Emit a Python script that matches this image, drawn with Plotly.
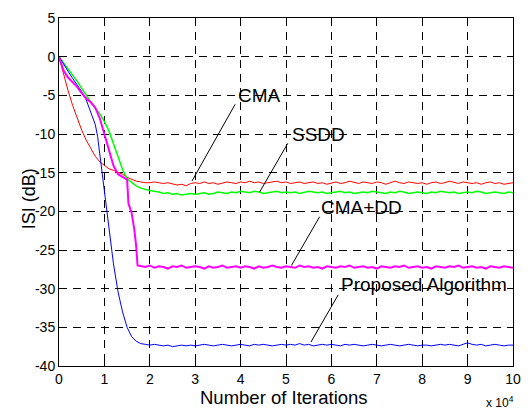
import plotly.graph_objects as go

# ---------------- data (x in units of 10^4 iterations, ISI in dB) ----------------
steady_x = [round(2.1 + 0.1 * i, 1) for i in range(80)]  # 2.1 ... 10.0

cma_head_x = [0, 0.1, 0.2, 0.3, 0.4, 0.5, 0.6, 0.7, 0.8, 0.9, 1.0, 1.1, 1.2, 1.3,
              1.4, 1.5, 1.6, 1.7, 1.8, 1.9, 2.0]
cma_head_y = [0, -2.3, -4.4, -6.3, -8.0, -9.5, -10.8, -11.9, -12.9, -13.6, -14.1,
              -14.5, -14.7, -14.9, -15.2, -15.6, -15.9, -16.1, -16.2, -16.3, -16.3]
cma_tail_y = [-16.2, -16.3, -16.4, -16.3, -16.5, -16.6, -16.5, -16.7, -16.4, -16.3,
              -16.4, -16.2, -16.4, -16.3, -16.5, -16.3, -16.2, -16.3, -16.4, -16.2,
              -16.3, -16.1, -16.3, -16.2, -16.4, -16.3, -16.2, -16.1, -16.3, -16.2,
              -16.4, -16.3, -16.2, -16.4, -16.3, -16.2, -16.4, -16.3, -16.5, -16.3,
              -16.2, -16.4, -16.3, -16.1, -16.3, -16.4, -16.2, -16.3, -16.4, -16.2,
              -16.3, -16.5, -16.3, -16.1, -16.3, -16.4, -16.2, -16.3, -16.4, -16.3,
              -16.5, -16.3, -16.2, -16.4, -16.3, -16.1, -16.3, -16.4, -16.2, -16.3,
              -16.4, -16.3, -16.5, -16.3, -16.2, -16.4, -16.3, -16.5, -16.4, -16.3]

ssdd_head_x = [0, 0.1, 0.2, 0.3, 0.4, 0.5, 0.6, 0.7, 0.8, 0.9, 1.0, 1.1, 1.2, 1.3,
               1.4, 1.5, 1.6, 1.7, 1.8, 1.9, 2.0]
ssdd_head_y = [0, -0.8, -1.5, -2.3, -3.2, -4.1, -5.0, -5.8, -6.7, -7.4, -8.4, -9.6,
               -11.2, -13.0, -14.6, -15.8, -16.3, -16.7, -17.0, -17.2, -17.3]
ssdd_tail_y = [-17.4, -17.5, -17.7, -17.6, -17.8, -17.7, -17.9, -17.8, -17.7, -17.8,
               -17.7, -17.6, -17.8, -17.7, -17.5, -17.6, -17.7, -17.5, -17.6, -17.4,
               -17.5, -17.6, -17.4, -17.5, -17.7, -17.6, -17.5, -17.4, -17.6, -17.5,
               -17.6, -17.5, -17.7, -17.6, -17.4, -17.5, -17.6, -17.5, -17.7, -17.6,
               -17.5, -17.4, -17.6, -17.5, -17.7, -17.6, -17.5, -17.6, -17.4, -17.5,
               -17.6, -17.7, -17.5, -17.6, -17.4, -17.5, -17.7, -17.6, -17.5, -17.6,
               -17.7, -17.5, -17.6, -17.4, -17.5, -17.6, -17.5, -17.7, -17.6, -17.5,
               -17.6, -17.4, -17.5, -17.7, -17.6, -17.5, -17.6, -17.7, -17.5, -17.6]

cmadd_head_x = [0, 0.1, 0.2, 0.3, 0.4, 0.5, 0.6, 0.7, 0.8, 0.9, 1.0, 1.1, 1.2, 1.3,
                1.4, 1.5, 1.53, 1.6, 1.66, 1.7, 1.73, 1.8, 1.9, 2.0]
cmadd_head_y = [0, -1.8, -2.7, -3.3, -3.9, -4.7, -5.4, -5.9, -6.6, -8.0, -10.1, -12.2,
                -14.1, -15.2, -15.6, -15.9, -19.0, -20.2, -22.4, -24.5, -27.0, -27.1,
                -27.2, -27.0]
cmadd_tail_y = [-27.3, -27.1, -27.2, -27.4, -27.1, -27.2, -27.0, -27.3, -27.2, -27.1,
                -27.2, -27.4, -27.1, -27.3, -27.2, -27.0, -27.3, -27.2, -27.1, -27.3,
                -27.1, -27.2, -27.4, -27.1, -27.3, -27.2, -27.0, -27.2, -27.3, -27.1,
                -27.2, -27.3, -27.0, -27.2, -27.1, -27.3, -27.2, -27.4, -27.1, -27.2,
                -27.3, -27.1, -27.2, -27.0, -27.3, -27.2, -27.1, -27.3, -27.2, -27.4,
                -27.1, -27.2, -27.3, -27.1, -27.2, -27.0, -27.3, -27.2, -27.1, -27.3,
                -27.2, -27.4, -27.1, -27.2, -27.3, -27.1, -27.2, -27.0, -27.3, -27.2,
                -27.1, -27.3, -27.2, -27.4, -27.1, -27.2, -27.3, -27.1, -27.2, -27.3]

prop_head_x = [0, 0.1, 0.2, 0.3, 0.4, 0.5, 0.6, 0.7, 0.8, 0.85, 0.9, 0.95, 1.0, 1.05,
               1.1, 1.2, 1.3, 1.4, 1.5, 1.6, 1.7, 1.8, 1.9, 2.0]
prop_head_y = [0, -1.0, -1.9, -2.8, -3.7, -4.5, -5.6, -7.1, -8.8, -10.3, -12.6, -15.5,
               -17.8, -19.6, -22.0, -26.8, -30.4, -33.0, -35.0, -36.2, -36.8, -37.1,
               -37.2, -37.3]
prop_tail_y = [-37.2, -37.3, -37.4, -37.3, -37.5, -37.4, -37.3, -37.4, -37.3, -37.4,
               -37.3, -37.2, -37.3, -37.4, -37.3, -37.2, -37.3, -37.4, -37.3, -37.2,
               -37.3, -37.4, -37.2, -37.3, -37.2, -37.3, -37.4, -37.3, -37.2, -37.3,
               -37.2, -37.3, -37.1, -37.3, -37.2, -37.4, -37.3, -37.2, -37.3, -37.2,
               -37.3, -37.4, -37.2, -37.3, -37.2, -37.3, -37.4, -37.3, -37.2, -37.3,
               -37.4, -37.3, -37.2, -37.3, -37.4, -37.3, -37.2, -37.3, -37.4, -37.3,
               -37.3, -37.4, -37.3, -37.2, -37.3, -37.2, -37.3, -37.4, -37.2, -37.0,
               -37.2, -37.3, -37.2, -37.4, -37.3, -37.2, -37.3, -37.4, -37.3, -37.3]

x_ticks = [0, 1, 2, 3, 4, 5, 6, 7, 8, 9, 10]
y_ticks = [5, 0, -5, -10, -15, -20, -25, -30, -35, -40]
y_tick_labels = ["5", "0", "-5", "-10", "-15", "-20", "-25", "-30", "-35", "-40"]

# label text, label centre (x, y), pointer start (x, y), pointer end (x, y)
labels = ["CMA", "SSDD", "CMA+DD", "Proposed Algorithm"]
label_x = [4.42, 5.72, 6.66, 8.05]
label_y = [-4.96, -10.1, -19.5, -29.45]
ptr_x0 = [3.88, 5.04, 5.74, 6.15]
ptr_y0 = [-6.16, -11.2, -20.7, -30.8]
ptr_x1 = [2.93, 4.42, 5.12, 5.55]
ptr_y1 = [-16.07, -17.5, -27.0, -36.9]

FONT = "Liberation Sans, Arial, Helvetica, sans-serif"

fig = go.Figure()
series = [
    (cma_head_x, cma_head_y, cma_tail_y, "#ff0000", 1.0, "CMA"),
    (ssdd_head_x, ssdd_head_y, ssdd_tail_y, "#00ff00", 1.5, "SSDD"),
    (prop_head_x, prop_head_y, prop_tail_y, "#0000ff", 1.0, "Proposed Algorithm"),
    (cmadd_head_x, cmadd_head_y, cmadd_tail_y, "#ff00ff", 2.0, "CMA+DD"),
]
for hx, hy, ty, col, w, name in series:
    fig.add_trace(go.Scatter(x=hx + steady_x, y=hy + ty, mode="lines", name=name,
                             line=dict(color=col, width=w), showlegend=False))

for i, t in enumerate(labels):
    fig.add_shape(type="line", xref="x", yref="y", x0=ptr_x0[i], y0=ptr_y0[i],
                  x1=ptr_x1[i], y1=ptr_y1[i], line=dict(color="black", width=1))
    fig.add_annotation(x=label_x[i], y=label_y[i], xref="x", yref="y", text=t,
                       showarrow=False, xanchor="center", yanchor="middle",
                       font=dict(family=FONT, size=19, color="black"))

axis_common = dict(showline=True, linecolor="black", linewidth=1, mirror="ticks",
                   ticks="inside", ticklen=5, tickcolor="black", showgrid=True,
                   gridcolor="black", gridwidth=1, griddash="8px,6px", zeroline=False,
                   tickfont=dict(family=FONT, size=14, color="black"))

fig.update_xaxes(range=[0, 10], tickvals=x_ticks, ticktext=[str(v) for v in x_ticks],
                 **axis_common)
fig.update_yaxes(range=[-40, 5], tickvals=y_ticks, ticktext=y_tick_labels, **axis_common)

fig.add_annotation(x=0.496, y=-0.09, xref="paper", yref="paper", text="Number of Iterations",
                   showarrow=False, xanchor="center", yanchor="middle",
                   font=dict(family=FONT, size=18.5, color="black"))
fig.add_annotation(x=-0.0655, y=0.48, xref="paper", yref="paper", text="ISI (dB)",
                   textangle=-90, showarrow=False, xanchor="center", yanchor="middle",
                   font=dict(family=FONT, size=18, color="black"))
fig.add_annotation(x=0.972, y=-0.104, xref="paper", yref="paper", text="x 10<sup>4</sup>",
                   showarrow=False, xanchor="center", yanchor="middle",
                   font=dict(family=FONT, size=12, color="black"))

fig.update_layout(width=531, height=412, margin=dict(l=59, r=14, t=10, b=46),
                  paper_bgcolor="white", plot_bgcolor="white")

fig.write_html("out.html")
